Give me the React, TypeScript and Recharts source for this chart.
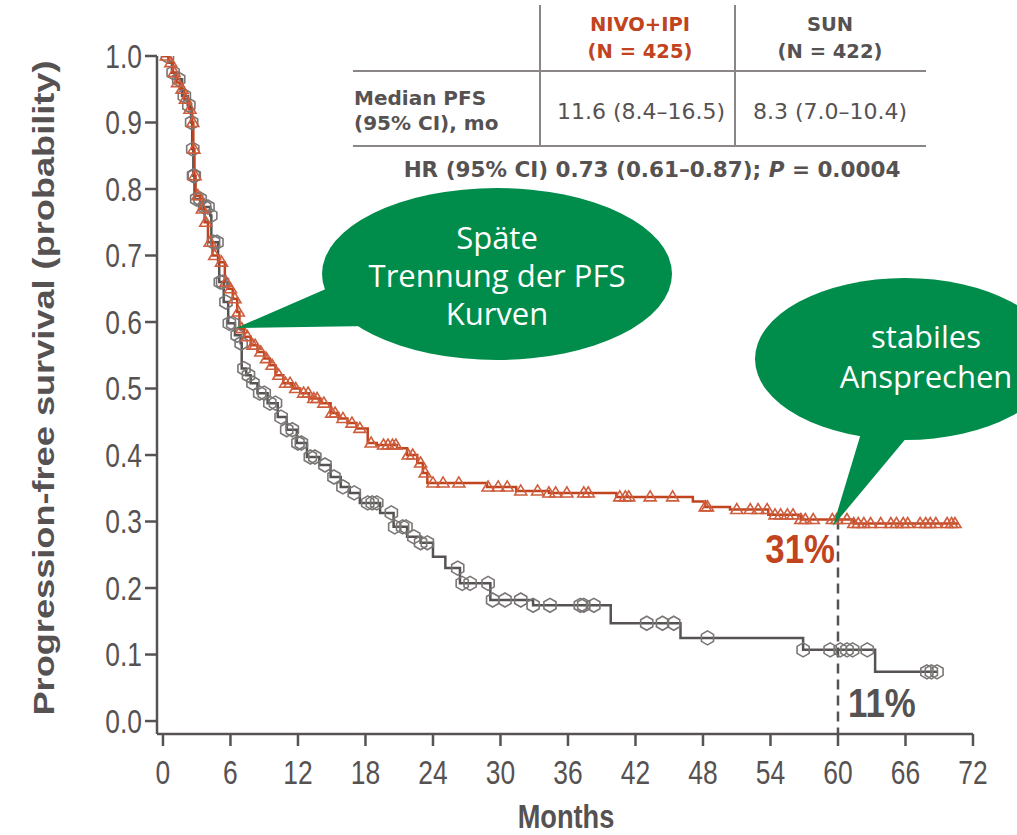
import React from 'react';
import {
  ComposedChart,
  Line,
  Scatter,
  XAxis,
  YAxis,
  ReferenceLine,
} from 'recharts';

// Kaplan-Meier steps: [months, probability]
const NIVO_KM: [number, number][] = [
  [0, 1.0], [0.5, 0.99], [0.9, 0.975], [1.2, 0.96], [1.5, 0.95], [1.9, 0.935],
  [2.3, 0.92], [2.6, 0.9], [2.7, 0.86], [2.8, 0.82], [2.9, 0.79], [3.3, 0.77],
  [3.7, 0.75], [4.0, 0.72], [4.4, 0.7], [5.0, 0.69], [5.5, 0.66], [5.8, 0.65],
  [6.2, 0.635], [6.6, 0.615], [6.8, 0.59], [7.2, 0.578], [7.8, 0.565], [8.4, 0.555],
  [9.0, 0.545], [9.5, 0.535], [10.0, 0.52], [10.7, 0.508], [11.5, 0.5], [12.2, 0.493],
  [13.0, 0.485], [14.0, 0.478], [14.9, 0.463], [15.6, 0.455], [16.4, 0.448], [17.2, 0.44],
  [18.2, 0.418], [19.0, 0.415], [20.8, 0.41], [21.7, 0.4], [22.6, 0.388], [23.1, 0.373],
  [23.5, 0.358], [28.8, 0.352], [31.4, 0.346], [34.3, 0.343], [40.3, 0.337], [47.1, 0.33],
  [48.2, 0.322], [50.4, 0.318], [53.8, 0.31], [56.7, 0.303], [61.4, 0.297], [70.7, 0.297],
];

const SUN_KM: [number, number][] = [
  [0, 1.0], [0.5, 0.99], [0.8, 0.975], [1.1, 0.965], [1.7, 0.94], [2.2, 0.926],
  [2.5, 0.9], [2.6, 0.86], [2.7, 0.82], [2.8, 0.785], [3.6, 0.773], [4.2, 0.76],
  [4.3, 0.72], [4.9, 0.69], [5.0, 0.66], [5.4, 0.63], [5.8, 0.598], [6.4, 0.58],
  [6.9, 0.568], [7.0, 0.53], [7.4, 0.52], [7.8, 0.508], [8.4, 0.493], [9.3, 0.478],
  [10.2, 0.457], [11.0, 0.438], [11.9, 0.418], [12.8, 0.397], [13.9, 0.385], [14.9, 0.367],
  [15.8, 0.352], [16.6, 0.343], [17.5, 0.328], [19.3, 0.313], [20.5, 0.292], [21.7, 0.277],
  [22.9, 0.268], [24.0, 0.247], [25.1, 0.23], [26.4, 0.207], [29.1, 0.182], [32.9, 0.174],
  [39.8, 0.147], [46.0, 0.125], [56.9, 0.107], [63.3, 0.074], [68.8, 0.074],
];

// censoring times (months)
const NIVO_CENSOR = [
  0.3, 0.7, 1.0, 1.3, 1.7, 2.0, 2.4, 2.65, 2.75, 2.85, 3.1, 3.5, 3.8, 4.2, 4.6, 5.2,
  5.6, 6.0, 6.4, 6.7, 7.0, 7.5, 8.0, 8.2, 8.7, 9.2, 9.7, 10.3, 10.9, 11.3, 11.8, 12.5,
  12.9, 13.4, 13.7, 14.3, 15.0, 15.3, 16.0, 16.8, 17.5, 18.5, 19.6, 20.0, 20.4, 20.7,
  21.8, 22.2, 22.9, 23.3, 24.0, 24.9, 26.3, 28.9, 29.8, 30.6, 31.8, 33.3, 34.3, 34.9,
  35.9, 37.4, 37.8, 40.6, 41.1, 41.4, 43.3, 45.3, 48.2, 48.4, 51.0, 52.2, 52.9, 53.7,
  54.4, 54.9, 55.5, 56.0, 56.7, 57.1, 57.8, 59.5, 59.9, 60.8, 61.4, 61.8, 62.3, 62.9,
  63.8, 64.7, 65.2, 65.8, 66.2, 67.3, 67.8, 68.2, 68.7, 69.7, 70.1, 70.4,
];

const SUN_CENSOR = [
  0.4, 0.9, 1.4, 1.9, 2.3, 2.55, 2.65, 2.72, 2.78, 3.0, 3.3, 3.7, 4.0, 4.25, 4.5, 4.8,
  5.1, 5.3, 5.6, 5.9, 6.2, 6.6, 6.95, 7.2, 7.6, 8.0, 8.6, 9.0, 9.5, 10.0, 10.5, 11.0,
  11.5, 12.0, 12.3, 13.1, 13.5, 14.4, 15.2, 16.0, 17.0, 18.2, 18.6, 19.0, 20.3, 20.6,
  21.3, 21.6, 22.3, 22.9, 23.5, 26.2, 26.6, 27.3, 28.9, 29.3, 30.4, 31.8, 32.9, 34.4,
  37.1, 37.4, 38.3, 43.0, 44.4, 45.4, 48.4, 56.9, 59.3, 60.2, 60.8, 61.3, 62.6, 67.9,
  68.3, 68.8,
];

const X_TICKS = [0, 6, 12, 18, 24, 30, 36, 42, 48, 54, 60, 66, 72];
const Y_TICKS = [0, 0.1, 0.2, 0.3, 0.4, 0.5, 0.6, 0.7, 0.8, 0.9, 1.0];
const LANDMARK_MONTH = 60;

const ORANGE = '#c1441e';
const GREY = '#575353';
const TEXT = '#565252';
const GREEN = '#008c4a';
const NARROW = 'Liberation Sans';

const toRows = (km: [number, number][]) => km.map(([t, s]) => ({ t, s }));

// survival at time t from the step table (for placing censor ticks on the curve)
function survAt(km: [number, number][], t: number) {
  let s = km[0][1];
  for (const [tt, ss] of km) if (tt <= t) s = ss;
  return s;
}

const nivoLine = toRows(NIVO_KM);
const sunLine = toRows(SUN_KM);
const nivoMarks = NIVO_CENSOR.map((t) => ({ t, s: survAt(NIVO_KM, t) }));
const sunMarks = SUN_CENSOR.map((t) => ({ t, s: survAt(SUN_KM, t) }));

const Triangle = (p: any) => {
  const { cx, cy } = p;
  return (
    <polygon
      points={`${cx},${cy - 6} ${cx - 6},${cy + 4} ${cx + 6},${cy + 4}`}
      fill="none"
      stroke="#cd5d3d"
      strokeWidth={1.6}
    />
  );
};

const Hexagon = (p: any) => {
  const { cx, cy } = p;
  const r = 7;
  const pts = [0, 1, 2, 3, 4, 5]
    .map((i) => {
      const a = (Math.PI / 3) * i + Math.PI / 6;
      return `${cx + r * Math.cos(a)},${cy + r * Math.sin(a)}`;
    })
    .join(' ');
  return <polygon points={pts} fill="none" stroke="#7a7676" strokeWidth={1.6} />;
};

// condensed look: regular sans squeezed horizontally
const NarrowText = ({ x, y, anchor, dy, children, size = 33, weight = 400, fill = TEXT, sx = 0.8 }: any) => (
  <g transform={`translate(${x},${y})`}>
    <text
      transform={`scale(${sx},1)`}
      textAnchor={anchor}
      dy={dy}
      style={{ fontFamily: NARROW, fontSize: size, fontWeight: weight, fill }}
    >
      {children}
    </text>
  </g>
);

const XTick = (p: any) => (
  <NarrowText x={p.x} y={p.y} anchor="middle" dy="0.72em">
    {p.payload.value}
  </NarrowText>
);

const YTick = (p: any) => (
  <NarrowText x={p.x} y={p.y} anchor="end" dy="0.36em">
    {Number(p.payload.value).toFixed(1)}
  </NarrowText>
);

function Overlay() {
  return (
    <svg
      width={1017}
      height={835}
      style={{ position: 'absolute', left: 0, top: 0, pointerEvents: 'none' }}
    >
      {/* y-axis title */}
      <text
        transform="rotate(-90)"
        x={-388}
        y={54}
        textAnchor="middle"
        textLength={655}
        lengthAdjust="spacingAndGlyphs"
        style={{ fontFamily: 'Liberation Sans', fontWeight: 700, fontSize: 29, fill: TEXT }}
      >
        Progression-free survival (probability)
      </text>
      <NarrowText x={566} y={828} anchor="middle" size={34} weight={700}>
        Months
      </NarrowText>

      {/* summary table */}
      <g stroke="#8a8686" strokeWidth={2}>
        <line x1={353} y1={71} x2={926} y2={71} />
        <line x1={353} y1={146} x2={926} y2={146} />
        <line x1={540} y1={5} x2={540} y2={146} />
        <line x1={735} y1={5} x2={735} y2={146} />
      </g>
      <g style={{ fontFamily: 'DejaVu Sans', fontSize: 19.5 }} textAnchor="middle">
        <text x={640} y={31} fill={ORANGE} fontWeight={700}>NIVO+IPI</text>
        <text x={640} y={58} fill={ORANGE} fontWeight={700}>(N = 425)</text>
        <text x={830} y={31} fill={TEXT} fontWeight={700}>SUN</text>
        <text x={830} y={58} fill={TEXT} fontWeight={700}>(N = 422)</text>
      </g>
      <g style={{ fontFamily: 'DejaVu Sans', fontSize: 22 }} textAnchor="middle" fill={TEXT}>
        <text x={641} y={119}>11.6 (8.4–16.5)</text>
        <text x={830} y={119}>8.3 (7.0–10.4)</text>
      </g>
      <text
        x={652}
        y={177}
        textAnchor="middle"
        fill={TEXT}
        style={{ fontFamily: 'DejaVu Sans', fontSize: 21.5, fontWeight: 700 }}
      >
        HR (95% CI) 0.73 (0.61–0.87); <tspan fontStyle="italic">P</tspan> = 0.0004
      </text>
      <g style={{ fontFamily: 'DejaVu Sans', fontSize: 20, fontWeight: 700 }} fill={TEXT}>
        <text x={354} y={105}>Median PFS</text>
        <text x={354} y={130}>(95% CI), mo</text>
      </g>

      {/* callouts */}
      <g fill={GREEN}>
        <ellipse cx={497} cy={274} rx={175} ry={86} />
        <polygon points="236,328 335,285 370,326" />
        <ellipse cx={905} cy={359} rx={150} ry={81} />
        <polygon points="833,526 862,430 908,436" />
      </g>
      <g style={{ fontFamily: 'Open Sans', fontSize: 31 }} fill="#ffffff" textAnchor="middle">
        <text x={497} y={249}>Späte</text>
        <text x={497} y={287}>Trennung der PFS</text>
        <text x={497} y={325}>Kurven</text>
        <text x={926} y={348}>stabiles</text>
        <text x={926} y={388}>Ansprechen</text>
      </g>

      <NarrowText x={835} y={563} anchor="end" size={40} weight={700} fill={ORANGE} sx={0.87}>
        31%
      </NarrowText>
      <NarrowText x={848} y={717} anchor="start" size={40} weight={700} sx={0.87}>
        11%
      </NarrowText>
    </svg>
  );
}

export default function App() {
  return (
    <div
      style={{
        position: 'absolute',
        left: 0,
        top: 0,
        width: 1017,
        height: 835,
        background: '#ffffff',
      }}
    >
      <ComposedChart
        width={1017}
        height={835}
        margin={{ top: 56, right: 44, bottom: 0, left: 0 }}
      >
        <XAxis
          type="number"
          dataKey="t"
          domain={[-0.53, 72]}
          ticks={X_TICKS}
          allowDataOverflow
          height={101}
          tickSize={12}
          tickMargin={14}
          stroke={GREY}
          strokeWidth={2.5}
          tick={<XTick />}
          interval={0}
        />
        <YAxis
          type="number"
          domain={[-0.0195, 1]}
          ticks={Y_TICKS}
          allowDataOverflow
          width={157}
          tickSize={12}
          tickMargin={3}
          stroke={GREY}
          strokeWidth={2.5}
          tick={<YTick />}
          interval={0}
        />
        <ReferenceLine
          segment={[
            { x: LANDMARK_MONTH, y: survAt(NIVO_KM, LANDMARK_MONTH) },
            { x: LANDMARK_MONTH, y: -0.0195 },
          ]}
          stroke={GREY}
          strokeWidth={2.5}
          strokeDasharray="10 6"
        />
        <Line
          data={sunLine}
          dataKey="s"
          type="stepAfter"
          stroke={GREY}
          strokeWidth={2.5}
          dot={false}
          isAnimationActive={false}
        />
        <Scatter data={sunMarks} dataKey="s" shape={Hexagon} isAnimationActive={false} />
        <Line
          data={nivoLine}
          dataKey="s"
          type="stepAfter"
          stroke={ORANGE}
          strokeWidth={2.5}
          dot={false}
          isAnimationActive={false}
        />
        <Scatter data={nivoMarks} dataKey="s" shape={Triangle} isAnimationActive={false} />
      </ComposedChart>
      <Overlay />
    </div>
  );
}
